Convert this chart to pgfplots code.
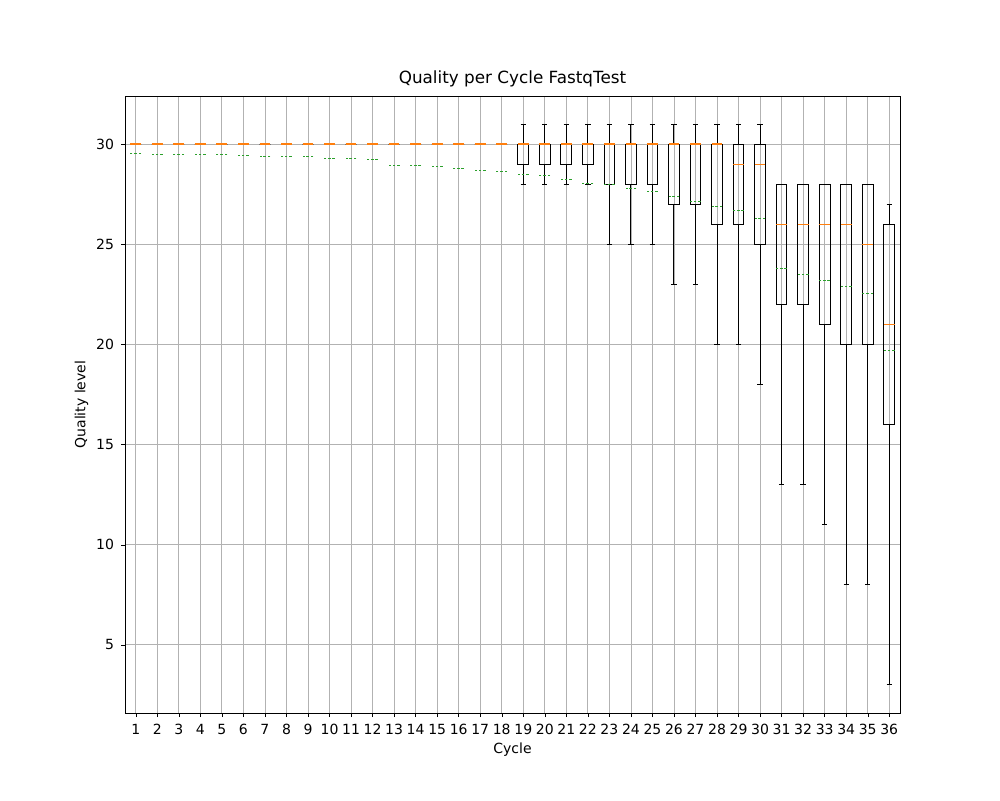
\documentclass[border=0pt]{standalone}
\usepackage{pgfplots}
\pgfplotsset{compat=1.18}
\usepackage{fontspec}
\setmainfont{DejaVu Sans}
\usepgfplotslibrary{statistics}
\definecolor{mplorange}{RGB}{255,127,14}
\definecolor{mplgreen}{RGB}{44,160,44}
\newcommand{\bx}[6]{\addplot[black, line width=0.5pt, boxplot/draw direction=y, boxplot prepared={draw position=#1, lower whisker=#2, lower quartile=#3, median=#4, upper quartile=#5, upper whisker=#6, box extend=0.5, whisker extend=0.25, every median/.style={draw=mplorange, line width=0.6pt}}] coordinates {};}
\begin{document}
\begin{tikzpicture}
\useasboundingbox (0,0) rectangle (500pt,400pt);
\begin{axis}[at={(62.5pt,43.5pt)}, anchor=south west, scale only axis,
 width=387.5pt, height=308.5pt,
 xmin=0.5, xmax=36.5, ymin=1.6, ymax=32.4,
 xtick={1,...,36}, ytick={5,10,...,30},
 xtick pos=left, ytick pos=left,
 grid=major, grid style={gray!60, line width=0.4pt},
 tick style={black}, tick align=outside, major tick length=2pt,
 font=\fontsize{7pt}{8pt}\selectfont,
 /pgf/number format/assume math mode=true,
 title={\fontsize{8.4pt}{10pt}\selectfont Quality per Cycle FastqTest},
 title style={yshift=-5pt},
 xlabel={Cycle}, ylabel={Quality level},
 xlabel style={yshift=3pt}, ylabel style={yshift=-3pt},
 axis line style={black, line width=0.5pt}]
\pgfplotsinvokeforeach{1,...,18}{\bx{#1}{30}{30}{30}{30}{30}}
\bx{19}{28}{29}{30}{30}{31}
\bx{20}{28}{29}{30}{30}{31}
\bx{21}{28}{29}{30}{30}{31}
\bx{22}{28}{29}{30}{30}{31}
\bx{23}{25}{28}{30}{30}{31}
\bx{24}{25}{28}{30}{30}{31}
\bx{25}{25}{28}{30}{30}{31}
\bx{26}{23}{27}{30}{30}{31}
\bx{27}{23}{27}{30}{30}{31}
\bx{28}{20}{26}{30}{30}{31}
\bx{29}{20}{26}{29}{30}{31}
\bx{30}{18}{25}{29}{30}{31}
\bx{31}{13}{22}{26}{28}{28}
\bx{32}{13}{22}{26}{28}{28}
\bx{33}{11}{21}{26}{28}{28}
\bx{34}{8}{20}{26}{28}{28}
\bx{35}{8}{20}{25}{28}{28}
\bx{36}{3}{16}{21}{26}{27}
\addplot[only marks, mark=-, mark size=2.7pt, mark options={draw=mplgreen, line width=0.5pt, dash pattern=on 1.3pt off 0.9pt}] coordinates {
(1,29.55)(2,29.5)(3,29.5)(4,29.5)(5,29.5)(6,29.45)(7,29.4)(8,29.4)(9,29.4)
(10,29.3)(11,29.3)(12,29.25)(13,28.95)(14,28.95)(15,28.9)(16,28.8)(17,28.7)(18,28.65)
(19,28.5)(20,28.45)(21,28.25)(22,28.05)(23,28.0)(24,27.8)(25,27.65)(26,27.4)(27,27.15)
(28,26.9)(29,26.7)(30,26.3)(31,23.8)(32,23.5)(33,23.2)(34,22.9)(35,22.55)(36,19.7)};
\end{axis}
\end{tikzpicture}
\end{document}
